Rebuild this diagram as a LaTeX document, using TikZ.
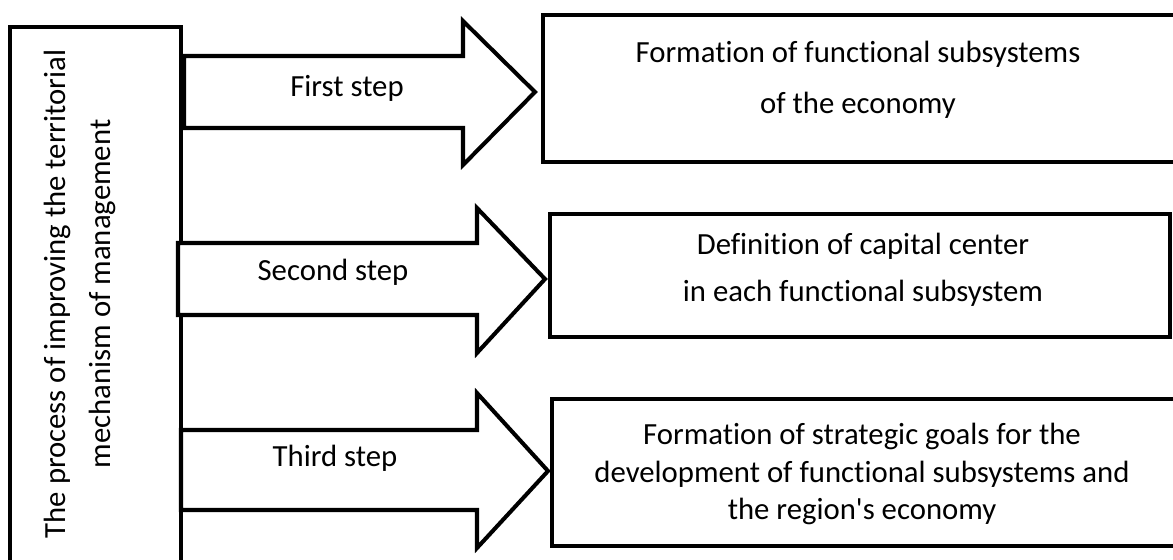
\documentclass[tikz,border=0pt]{standalone}
\usepackage{fontspec}
\newfontfamily\calfont{Carlito}[Ligatures=NoCommon]
\begin{document}
\begin{tikzpicture}[x=0.02cm,y=-0.02cm,
  frame/.style={draw=black,line width=2.5pt,fill=white,line join=miter},
  blockarrow/.style={draw=black,line width=2.3pt,fill=white,line join=miter},
  lbl/.style={font=\calfont\fontsize{17.5}{21}\selectfont,inner sep=0pt,align=center,text=black}]
\useasboundingbox (0,0) rectangle (1173,559);
\clip (0,0) rectangle (1173,559);
\fill[white] (0,0) rectangle (1173,559);
% left box
\draw[frame] (10,27) rectangle (181,590);
% result boxes
\draw[frame] (543,15) rectangle (1195,162);
\draw[frame] (550,214) rectangle (1170,337);
\draw[frame] (552,399) rectangle (1195,546);
% block arrows
\draw[blockarrow] (184,56) -- (463,56) -- (463,21) -- (535,92) -- (463,165) -- (463,128) -- (184,128) -- cycle;
\draw[blockarrow] (178,243) -- (477,243) -- (477,208) -- (545,279) -- (477,353) -- (477,315) -- (178,315) -- cycle;
\draw[blockarrow] (181,430) -- (477,430) -- (477,393) -- (548,471) -- (477,548) -- (477,510) -- (181,510) -- cycle;
% texts
\node[lbl,rotate=90,font=\calfont\fontsize{17.5}{26}\selectfont] (proc) at (80,294) {The process of improving the territorial\\mechanism of management};
\node[lbl] (s1) at (347,88) {First step};
\node[lbl] (s2) at (333,272) {Second step};
\node[lbl] (s3) at (335,458) {Third step};
\node[lbl,font=\calfont\fontsize{17.5}{29}\selectfont] (t1) at (858,80) {Formation of functional subsystems\\of the economy};
\node[lbl,font=\calfont\fontsize{17.5}{26.6}\selectfont] (t2) at (863,270) {Definition of capital center\\in each functional subsystem};
\node[lbl,font=\calfont\fontsize{17.5}{21.3}\selectfont] (t3) at (862,474) {Formation of strategic goals for the\\development of functional subsystems and\\the region's economy};
\end{tikzpicture}
\end{document}
